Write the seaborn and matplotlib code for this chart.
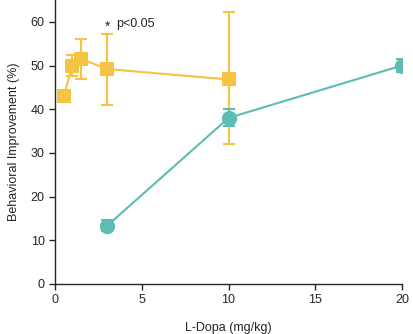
import matplotlib
matplotlib.use("Agg")
import matplotlib.pyplot as plt
import seaborn as sns
import pandas as pd
import numpy as np

sns.set_style("ticks")
plt.rcParams['font.family'] = ['Liberation Sans', 'DejaVu Sans']

yellow_dose = [0.5, 1.0, 1.5, 3.0, 10.0]
yellow_val = [43.0, 50.0, 51.5, 49.2, 46.8]
yellow_lo = [43.0, 47.5, 47.0, 41.0, 32.0]
yellow_hi = [43.0, 52.5, 56.0, 57.2, 62.2]

teal_dose = [3.0, 10.0, 20.0]
teal_val = [13.3, 38.0, 50.0]
teal_lo = [12.0, 36.2, 48.5]
teal_hi = [14.6, 40.0, 51.5]

YELLOW = "#F6C445"
TEAL = "#5CBDB3"

fig = plt.figure(figsize=(4.14, 3.34), dpi=100)
ax = fig.add_axes([0.133, 0.150, 0.838, 0.85])

for dose, val, lo, hi, col, mk, ms in [
    (yellow_dose, yellow_val, yellow_lo, yellow_hi, YELLOW, "s", 10),
    (teal_dose, teal_val, teal_lo, teal_hi, TEAL, "o", 11),
]:
    v = np.array(val); l = np.array(lo); h = np.array(hi)
    ax.errorbar(dose, val, yerr=[v - l, h - v], fmt="none", ecolor=col,
                elinewidth=1.5, capsize=4, capthick=1.5, zorder=2)
    df = pd.DataFrame({"dose": dose, "val": val})
    sns.lineplot(data=df, x="dose", y="val", ax=ax, color=col, marker=mk,
                 markersize=ms, markeredgewidth=0, linewidth=1.5, zorder=3)

ax.set_xlim(0, 20)
ax.set_ylim(0, 65)
ax.set_xticks([0, 5, 10, 15, 20])
ax.set_yticks([0, 10, 20, 30, 40, 50, 60])
ax.tick_params(labelsize=9, length=4, width=1, direction="out")
sns.despine(ax=ax)
ax.spines['left'].set_linewidth(1)
ax.spines['bottom'].set_linewidth(1)
ax.set_xlabel("L-Dopa (mg/kg)", fontsize=9, labelpad=11)
ax.set_ylabel("Behavioral Improvement (%)", fontsize=9, labelpad=8)

ax.text(3.2, 58.8, "*", fontsize=10, ha="right", va="center")
ax.text(3.55, 59.5, "p<0.05", fontsize=9, ha="left", va="center")

fig.savefig("out.png", dpi=100)
